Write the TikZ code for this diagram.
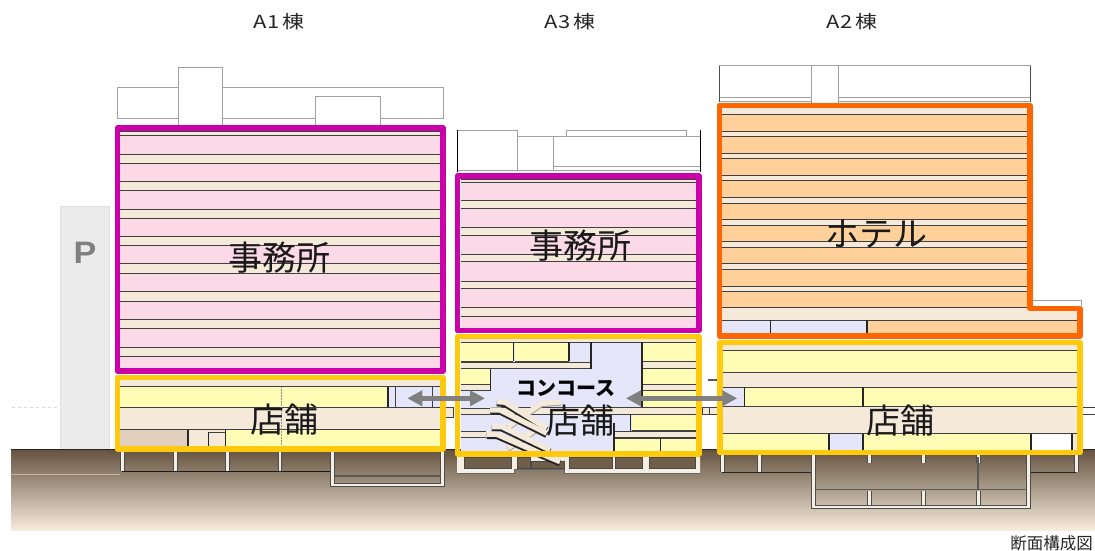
\documentclass[tikz,border=0pt]{standalone}
\usepackage{fontspec}
\setmainfont{Noto Sans CJK JP}
\newfontfamily\latinbold{Liberation Sans}
\usetikzlibrary{arrows.meta}
\definecolor{pinkc}{HTML}{FBD9E6}
\definecolor{beigec}{HTML}{F5E9DA}
\definecolor{darkbeige}{HTML}{E2CFBE}
\definecolor{yellowc}{HTML}{FFFCB5}
\definecolor{lavc}{HTML}{E6E6FA}
\definecolor{orangec}{HTML}{FFD09A}
\definecolor{magframe}{HTML}{CC00A8}
\definecolor{orframe}{HTML}{FF6600}
\definecolor{yelframe}{HTML}{FFC90E}
\definecolor{linec}{HTML}{404040}
\definecolor{roofc}{HTML}{A0A0A0}
\definecolor{groundtop}{HTML}{64533F}
\definecolor{groundmid}{HTML}{B09A80}
\definecolor{groundbot}{HTML}{F8EDDE}
\definecolor{wallc}{HTML}{F5EEE2}
\tikzset{
  fl/.style={draw=linec,line width=1pt},
  vl/.style={draw=black!85,line width=1.1pt},
  roof/.style={draw=roofc,fill=white,line width=1pt},
  frame/.style={line width=5.6pt,line join=round},
  biglabel/.style={inner sep=0pt,text=black!90,font=\fontsize{34}{34}\selectfont},
  toplabel/.style={inner sep=0pt,text=black!85,xscale=1.22,font=\fontsize{18}{18}\selectfont},
  linkarrow/.style={draw=black!50,line width=5pt,{Triangle[length=15pt,width=15pt]}-{Triangle[length=15pt,width=15pt]},shorten <=0pt,shorten >=0pt},
  walld/.style={draw=black!70,line width=4.8pt},
  wallb/.style={draw=wallc,line width=2.8pt},
  escdark/.style={draw=black!85,line width=6.4pt,line join=round,yshift=-1.5pt},
  escfaint/.style={draw=black!35,line width=6pt,line join=round,yshift=-0.8pt},
  escin/.style={draw=beigec,line width=5.2pt,line join=round}
}
\newcommand{\rc}[5]{\fill[#5] (#1,#2) rectangle (#3,#4);}
\newcommand{\bandrow}[5]{\fill[#5] (#1,#2) rectangle (#3,#4); \draw[fl] (#1,#2) -- (#3,#2); \draw[fl] (#1,#4) -- (#3,#4);}
\newcommand{\wallpath}[1]{\draw[walld] #1; \draw[wallb] #1;}
\newcommand{\esca}[1]{\draw[escdark] #1; \draw[escin] #1;}
\newcommand{\escb}[1]{\draw[escfaint] #1; \draw[escin] #1;}
\begin{document}
\begin{tikzpicture}[x=1pt,y=-1pt]
\useasboundingbox (0,0) rectangle (1095,551);
\fill[white] (0,0) rectangle (1095,551);
% parking
\draw[draw=black!12,fill=black!8,line width=0.8pt] (60.7,206.7) rectangle (109,449);
\node[inner sep=0pt,text=black!50,xscale=1.1,font=\latinbold\bfseries\fontsize{31}{31}\selectfont] (parkp) at (85,253) {P};
% faint level line
\draw[black!15,line width=0.8pt,dashed] (12,407) -- (60,407);
% ground
\shade[top color=groundtop,middle color=groundmid,bottom color=groundbot] (11,449.5) rectangle (1095,530.7);
\draw[black!85,line width=1pt] (11,449.5) -- (116,449.5);
\draw[black!85,line width=1pt] (446,449.5) -- (455,449.5);
\draw[black!85,line width=1pt] (702,449.5) -- (716,449.5);
\draw[black!85,line width=1pt] (1083,449.5) -- (1095,449.5);
\draw[groundmid!70!wallc,line width=0.5pt] (11,474) -- (120,474);
%
% ---- A1 roof
\draw[roof] (117.3,87.3) rectangle (443.3,118);
\draw[roof] (178.7,67.3) rectangle (222.7,125);
\draw[roof] (315.3,96.3) rectangle (380.7,125);
% ---- A1 offices
\rc{120}{131}{440}{368}{pinkc}
\foreach \a/\b in {131/135.3,154.3/163.3,181.7/190.7,209.3/218,236/245.5,263.7/273.3,291.7/301,319.3/328.7,347.3/356.3}{\bandrow{120}{\a}{440}{\b}{beigec}}
% ---- A1 shops
\rc{120}{380}{440}{447}{beigec}
\rc{120}{386.7}{388}{407}{yellowc}
\rc{388}{386.7}{440}{407}{lavc}
\draw[fl] (120,386.7) -- (440,386.7);
\draw[fl] (120,407) -- (440,407);
\draw[fl] (120,429.7) -- (440,429.7);
\draw[vl] (388,386.7) -- (388,407);
\draw[fl,line width=0.6pt] (395.7,386.7) -- (395.7,407);
\draw[fl,line width=0.6pt] (432.3,386.7) -- (432.3,407);
\rc{120}{430}{187}{447}{darkbeige}
\rc{226}{430}{440}{447}{yellowc}
\draw[vl] (188,430) -- (188,447);
\draw[vl] (208.5,432) -- (208.5,447);
\draw[vl] (225.5,430) -- (225.5,447);
\draw[fl] (208.5,432.5) -- (225.5,432.5);
\draw[black!45,line width=0.5pt,densely dotted] (281,387) -- (281,447);
% ---- A1 basement
\draw[black!90,line width=1.2pt] (122,471.8) -- (333,471.8);
\foreach \cx in {122.3,175.7,227.7,280}{\wallpath{(\cx,451) -- (\cx,471)}}
\wallpath{(332.7,451) -- (332.7,485) -- (442.7,485) -- (442.7,451)}
\draw[black!65,line width=2pt] (335,476) -- (440.5,476);
%
% ---- A3 roof
\draw[draw=roofc,line width=1pt] (457.3,170.7) -- (700,170.7);
\draw[roof] (566,130.3) rectangle (686,136.7);
\draw[roof] (517.3,136.7) rectangle (553.3,170.7);
\draw[roof] (553.3,136.7) rectangle (700,166.7);
\draw[roof] (457.3,130.3) rectangle (517.3,170.7);
\draw[black,line width=1pt] (457.3,130.3) -- (457.3,172);
\draw[black,line width=1pt] (700,130.3) -- (700,172);
% ---- A3 offices
\rc{460.7}{179}{696}{328}{pinkc}
\foreach \a/\b in {179/182.7,200.7/208.3,227.3/235.7,254/261.7,281/288.7,307.3/316}{\bandrow{460.7}{\a}{696}{\b}{beigec}}
% ---- A3 shops
\rc{460.7}{339}{696}{451}{lavc}
\rc{460.7}{339}{696}{342.3}{beigec}
\draw[fl] (460.7,342.3) -- (696,342.3);
\bandrow{460.7}{342.3}{512.7}{361.3}{yellowc}
\bandrow{514.7}{342.3}{569}{361.3}{yellowc}
\bandrow{460.7}{362}{591}{368.7}{beigec}
\draw[vl] (513.5,342.3) -- (513.5,361.3);
\draw[vl] (569,342.3) -- (569,361.3);
\draw[vl] (591,342.3) -- (591,368.7);
\bandrow{460.7}{368.7}{490.7}{384}{yellowc}
\bandrow{460.7}{384}{490.7}{390.7}{beigec}
\draw[vl] (490.7,368.7) -- (490.7,390.7);
\draw[vl] (642,342.3) -- (642,407.3);
\bandrow{643.3}{342.3}{696}{361.3}{yellowc}
\bandrow{643.3}{361.3}{696}{368.7}{beigec}
\bandrow{643.3}{368.7}{696}{384}{yellowc}
\bandrow{643.3}{384}{696}{390.7}{beigec}
\bandrow{643.3}{390.7}{696}{407.3}{yellowc}
\bandrow{490.7}{407.3}{696}{414}{beigec}
\bandrow{460.7}{408}{490}{414}{beigec}
\bandrow{631.7}{414.7}{696}{430.7}{yellowc}
\draw[vl] (630.7,414) -- (630.7,431);
\bandrow{614}{431.3}{696}{437.3}{beigec}
\bandrow{460.7}{431.3}{486}{437.3}{beigec}
\rc{615}{438}{660}{451}{yellowc}
\rc{661.3}{438}{696}{451}{yellowc}
\draw[fl] (614,438) -- (696,438);
\draw[vl] (614,423) -- (614,451);
\draw[vl] (660.7,438) -- (660.7,451);
% ---- A3 basement
\fill[wallc] (457,457) -- (700,457) -- (700,473.3) -- (564,473.3) -- (564,469) -- (514,469) -- (514,473.3) -- (457,473.3) -- cycle;
\draw[black!60,line width=0.8pt] (457,473.3) -- (514,473.3) -- (514,469) -- (564,469) -- (564,473.3) -- (700,473.3);
\foreach \x/\w/\t in {464/511/457.7,517.3/530.7/457.7,569.3/612.7/457.7,615.7/642.7/457.7,649/695/457.7,531.7/564/461.7}{\draw[draw=black!72,fill=groundtop!85!groundmid,line width=0.9pt] (\x,\t) rectangle (\w,468.3);}
% escalators
\escb{(561,402) -- (541,403.5) -- (508,426.7)}
\escb{(538,428) -- (508,448)}
\esca{(496.7,401.7) -- (505,402.3) -- (546.7,428.3)}
\esca{(490,410) -- (500,410) -- (546.7,433.3)}
\esca{(491.7,426.7) -- (501.7,426.7) -- (550,450)}
\esca{(486.7,434.3) -- (496.7,434.3) -- (540,453.3) -- (560,461.7)}
% stubs between buildings
\draw[fl,fill=beigec] (440,407) rectangle (453,417);
\draw[fl,fill=beigec] (702,407) rectangle (717,414);
\draw[fl] (709,407) -- (709,414);
\draw[black!65,line width=1.5pt] (708,380) -- (717,380);
\draw[fl] (1083,407) -- (1095,407);
\draw[fl] (1083,414) -- (1095,414);
%
% ---- A2 roof
\draw[roof] (719.3,66) rectangle (1030.7,97.3);
\draw[draw=roofc,line width=1pt] (719.3,101) -- (1030.7,101);
\draw[roof] (811.7,66) rectangle (838.3,103);
\draw[black!70,line width=1pt] (719.3,66) -- (719.3,102);
\draw[black!70,line width=1pt] (1030.7,66) -- (1030.7,102);
\draw[draw=roofc,line width=1pt] (1033,300) -- (1081,300) -- (1081,306);
% ---- A2 hotel
\rc{722}{108}{1027}{308}{beigec}
\rc{722}{308}{1077}{334}{beigec}
\foreach \a/\b in {114/131,136.7/153,158.3/175.7,180.7/197,203/219.5,225/241.7,247/263.3,269.3/286,291.7/307.7}{\bandrow{722}{\a}{1027}{\b}{orangec}}
\rc{722}{320}{866}{334}{lavc}
\rc{868}{320}{1077}{334}{orangec}
\draw[fl] (722,320) -- (1077,320);
\draw[vl] (770.7,320) -- (770.7,334);
\draw[vl] (867,320) -- (867,334);
% ---- A2 shops
\rc{722}{345}{1078}{450}{beigec}
\bandrow{722}{350.7}{1078}{372.7}{yellowc}
\rc{722}{387}{744.7}{406.7}{lavc}
\rc{745}{387}{862}{406.7}{yellowc}
\rc{864}{387}{1078}{406.7}{yellowc}
\draw[fl] (722,387) -- (1078,387);
\draw[fl] (722,406.7) -- (1078,406.7);
\draw[vl] (744.7,387) -- (744.7,406.7);
\draw[vl] (863,387) -- (863,406.7);
\rc{722}{433.7}{829}{450}{yellowc}
\rc{829}{433.7}{862.7}{450}{lavc}
\rc{863}{433.7}{1031}{450}{yellowc}
\rc{1031}{433.7}{1072}{450}{white}
\draw[fl] (722,433.5) -- (1078,433.5);
\draw[vl] (829,433.5) -- (829,450);
\draw[vl] (863,433.5) -- (863,450);
\draw[vl] (1031,433.5) -- (1031,450);
\draw[vl] (1072,433.5) -- (1072,450);
% ---- A2 basement
\draw[black!85,line width=1.1pt] (722,472.7) -- (813,472.7);
\draw[black!85,line width=1.1pt] (1028,472.7) -- (1076,472.7);
\foreach \cx in {722.7,759.3,1076.7}{\wallpath{(\cx,455) -- (\cx,472)}}
\foreach \cx in {869.3,923.7,978.7}{\wallpath{(\cx,455) -- (\cx,462.7)}}
\foreach \cx in {869.3,923.7,978.7}{\wallpath{(\cx,491) -- (\cx,505)}}
\draw[black!65,line width=1.4pt] (816,489.5) -- (1026,489.5);
\wallpath{(813.3,455) -- (813.3,507) -- (1028.3,507) -- (1028.3,455)}
\draw[black!65,line width=1.5pt] (978.2,457) -- (978.2,489);
%
% ---- frames
\draw[frame,draw=yelframe] (117.5,377.5) rectangle (443,449);
\draw[frame,draw=magframe] (117.5,128) rectangle (443,371);
\draw[frame,draw=yelframe] (457.5,336.5) rectangle (699,454);
\draw[frame,draw=magframe] (457.5,176) rectangle (699,330.5);
\draw[frame,draw=yelframe] (719.7,342.5) rectangle (1080,452.5);
\draw[frame,draw=orframe] (719.5,105.5) -- (1030,105.5) -- (1030,308.5) -- (1080,308.5) -- (1080,336) -- (719.5,336) -- cycle;
% ---- arrows
\coordinate (linkAleft) at (407.3,398.3);
\coordinate (linkAright) at (485,398.3);
\coordinate (linkBleft) at (626,398.3);
\coordinate (linkBright) at (737.3,398.3);
\draw[linkarrow] (linkAleft) -- (linkAright);
\draw[linkarrow] (linkBleft) -- (linkBright);
% ---- labels
\node[toplabel] (ta1) at (279,22) {A\kern1pt1\kern2pt棟};
\node[toplabel] (ta3) at (570,22) {A\kern1pt3\kern2pt棟};
\node[toplabel] (ta2) at (852,22) {A\kern1pt2\kern2pt棟};
\node[biglabel] (office1) at (279.5,258) {事務所};
\node[biglabel] (office3) at (580.7,245.5) {事務所};
\node[biglabel] (hotel) at (876,234) {ホテル};
\node[biglabel] (shop1) at (284.5,419.5) {店舗};
\node[biglabel] (shop3) at (580,421) {店舗};
\node[biglabel] (shop2) at (900.5,420.5) {店舗};
\node[inner sep=0pt,text=black,font=\bfseries\fontsize{20}{20}\selectfont] (conc) at (566,388) {コンコース};
\node[inner sep=0pt,text=black!85,font=\fontsize{16.5}{16.5}\selectfont] (caption) at (1051.5,543) {断面構成図};
\end{tikzpicture}
\end{document}
